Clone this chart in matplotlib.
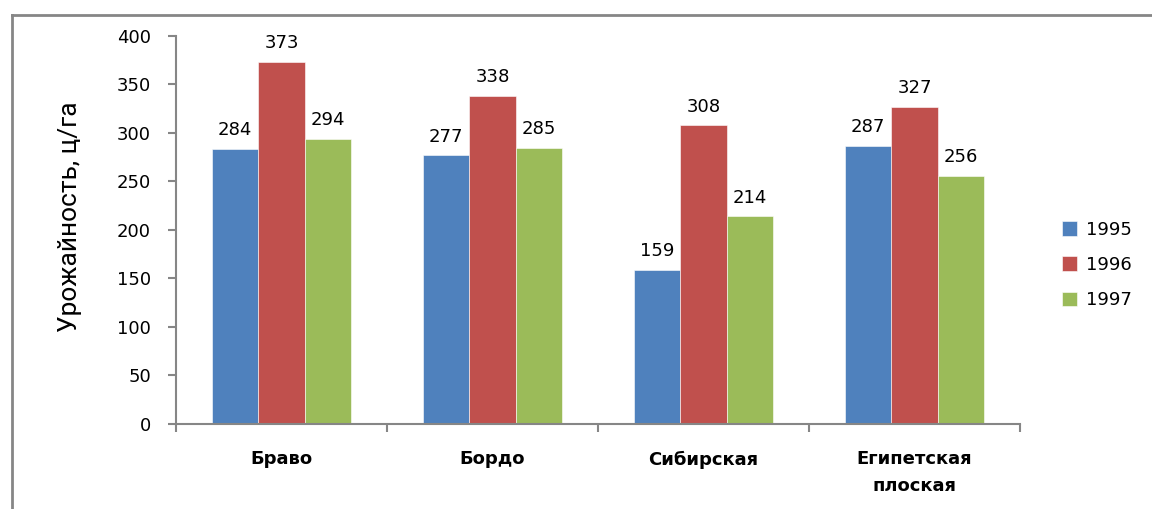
import matplotlib.pyplot as plt
from matplotlib.lines import Line2D
import numpy as np

categories = ['Браво', 'Бордо', 'Сибирская', 'Египетская\nплоская']
years = ['1995', '1996', '1997']
y1995 = [284, 277, 159, 287]
y1996 = [373, 338, 308, 327]
y1997 = [294, 285, 214, 256]
colors = ['#4F81BD', '#C0504D', '#9BBB59']

fig = plt.figure(figsize=(11.52, 5.09), dpi=100)
ax = fig.add_axes([0.1528, 0.167, 0.7326, 0.7623])

x = np.arange(len(categories))
w = 0.221
for i, (vals, lab, c) in enumerate(zip([y1995, y1996, y1997], years, colors)):
    bars = ax.bar(x + (i - 1) * w, vals, w, color=c, label=lab,
                  edgecolor='white', linewidth=0.4)
    for b, v in zip(bars, vals):
        ax.annotate(str(v), (b.get_x() + b.get_width() / 2, v),
                    xytext=(0, 7), textcoords='offset points',
                    ha='center', va='bottom', fontsize=13)

ax.set_xlim(-0.5, 3.5)
ax.set_ylim(0, 400)
ax.set_yticks(range(0, 401, 50))
ax.set_xticks(np.arange(-0.5, 4, 1))
ax.set_xticklabels([])
ax.set_xticks(x, minor=True)
ax.set_xticklabels(categories, minor=True, fontweight='bold', fontsize=13,
                   linespacing=1.6)
ax.tick_params(axis='x', which='minor', length=0, pad=19)
ax.tick_params(axis='x', which='major', length=6, color='#868686', width=1.5)
ax.tick_params(axis='y', length=6, color='#868686', width=1.5, labelsize=13, pad=12)

for s in ['top', 'right']:
    ax.spines[s].set_visible(False)
for s in ['left', 'bottom']:
    ax.spines[s].set_color('#868686')
    ax.spines[s].set_linewidth(1.5)

ax.set_ylabel('Урожайность, ц/га', fontsize=19,
              family=['Liberation Sans Narrow', 'Roboto', 'DejaVu Sans'],
              fontstretch='condensed')
ax.yaxis.set_label_coords(-0.112, 0.533)

ax.legend(loc='center left', bbox_to_anchor=(1.03, 0.41), frameon=False,
          fontsize=13, handlelength=0.85, handleheight=0.85, labelspacing=0.95,
          handletextpad=0.5)

# outer chart frame
fig.add_artist(Line2D([12 / 1152, 12 / 1152], [0, 1 - 15 / 509],
                      transform=fig.transFigure, color='#868686', lw=2))
fig.add_artist(Line2D([12 / 1152, 1], [1 - 15 / 509, 1 - 15 / 509],
                      transform=fig.transFigure, color='#868686', lw=2))

fig.savefig('out.png', dpi=100)
